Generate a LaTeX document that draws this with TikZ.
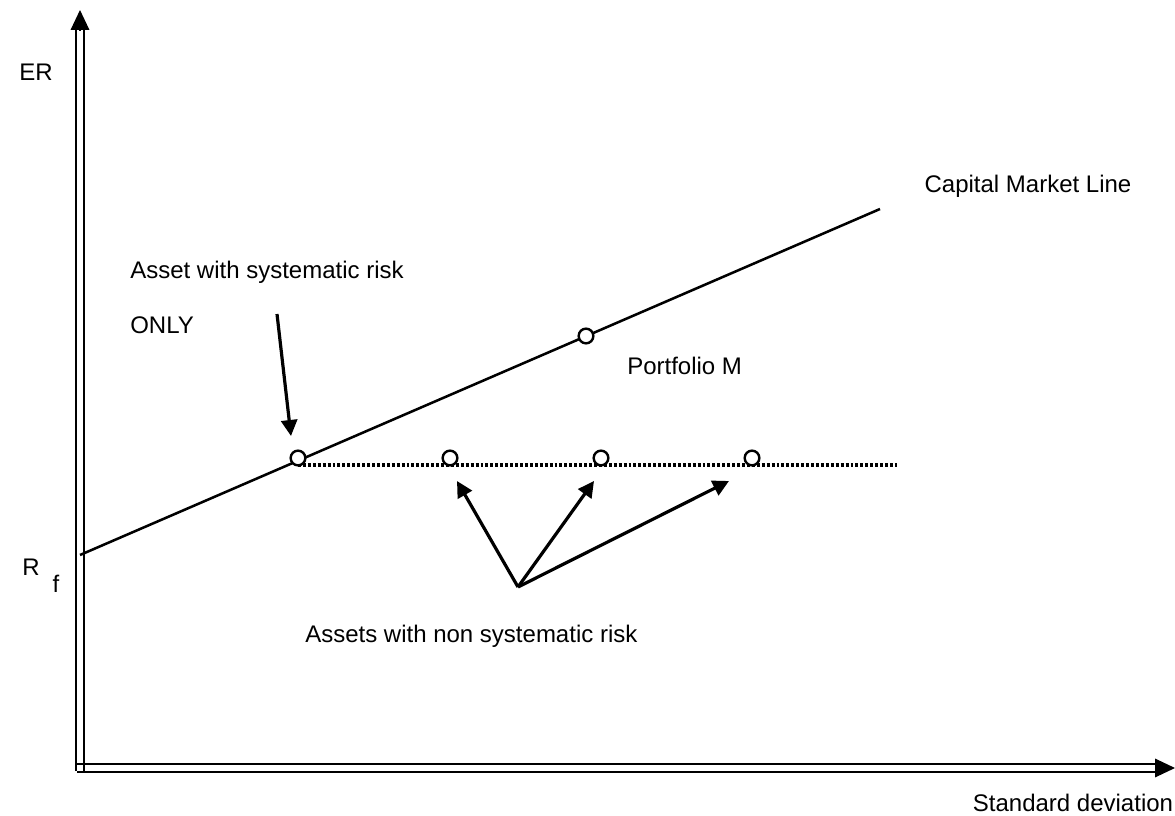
\documentclass[tikz,border=0pt]{standalone}
\usepackage{fontspec}
\setmainfont{Liberation Sans}
\usetikzlibrary{arrows.meta}

\tikzset{
  lbl/.style={inner sep=0pt, font=\fontsize{18}{21}\selectfont},
  asset/.style={circle, draw, line width=1.8pt, inner sep=0pt, minimum size=11pt, fill=white},
  pointer/.style={line width=2.4pt, -{Triangle[length=12pt,width=12pt]}},
  axisline/.style={line width=0.9pt},
  axistip/.style={line width=0.9pt, -{Triangle[length=15pt,width=14pt]}}
}

\begin{document}
\begin{tikzpicture}[x=0.75pt,y=-0.75pt]
  \useasboundingbox (0,0) rectangle (1175,816);
  % axes
  \coordinate (ybot) at (80,771);
  \coordinate (ytop) at (80,30);
  \coordinate (ytip) at (80,10);
  \coordinate (xleft) at (77,768);
  \coordinate (xright) at (1155,768);
  \coordinate (xtip) at (1175,768);
  \draw[axisline] ([xshift=-3]ybot) -- ([xshift=-3]ytop);
  \draw[axisline] ([xshift=3]ybot) -- ([xshift=3]ytop);
  \draw[axisline] ([yshift=-3]xleft) -- ([yshift=-3]xright);
  \draw[axisline] ([yshift=3]xleft) -- ([yshift=3]xright);
  \draw[axistip] (ytop) -- (ytip);
  \draw[axistip] (xright) -- (xtip);
  \node[lbl] (er) at (36,72) {ER};
  \node[lbl] (sd) at (1073,803) {Standard deviation};
  \node[lbl] (rf) at (31,567) {R};
  \node[lbl] (rfsub) at (56,584) {f};
  % capital market line
  \coordinate (cmlstart) at (80,555);
  \coordinate (cmlend) at (880,209);
  \draw[line width=1.9pt] (cmlstart) -- (cmlend);
  \node[lbl] (cml) at (1028,186) {Capital Market Line};
  % dotted level
  \coordinate (dotstart) at (298,465);
  \coordinate (dotend) at (897,465);
  \draw[line width=2.9pt, dash pattern=on 2.2pt off 1.5pt] (dotstart) -- (dotend);
  % assets
  \node[asset] (m) at (586,336) {};
  \node[asset] (a1) at (298,458) {};
  \node[asset] (a2) at (450,458) {};
  \node[asset] (a3) at (601,458) {};
  \node[asset] (a4) at (752,458) {};
  \node[lbl, anchor=west] (pm) at (627,366) {Portfolio M};
  % systematic risk only
  \node[lbl, anchor=west] (sys) at (130,272) {Asset with systematic risk};
  \node[lbl, anchor=west] (only) at (130,325) {ONLY};
  \coordinate (systail) at (277,314);
  \coordinate (systip) at (291,436);
  \draw[pointer] (systail) -- (systip);
  % non systematic risk
  \coordinate (hub) at (518,587);
  \coordinate (tip1) at (457,481);
  \coordinate (tip2) at (594,481);
  \coordinate (tip3) at (729,481);
  \draw[pointer] (hub) -- (tip1);
  \draw[pointer] (hub) -- (tip2);
  \draw[pointer] (hub) -- (tip3);
  \node[lbl, anchor=west] (nonsys) at (305,636) {Assets with non systematic risk};
\end{tikzpicture}
\end{document}
